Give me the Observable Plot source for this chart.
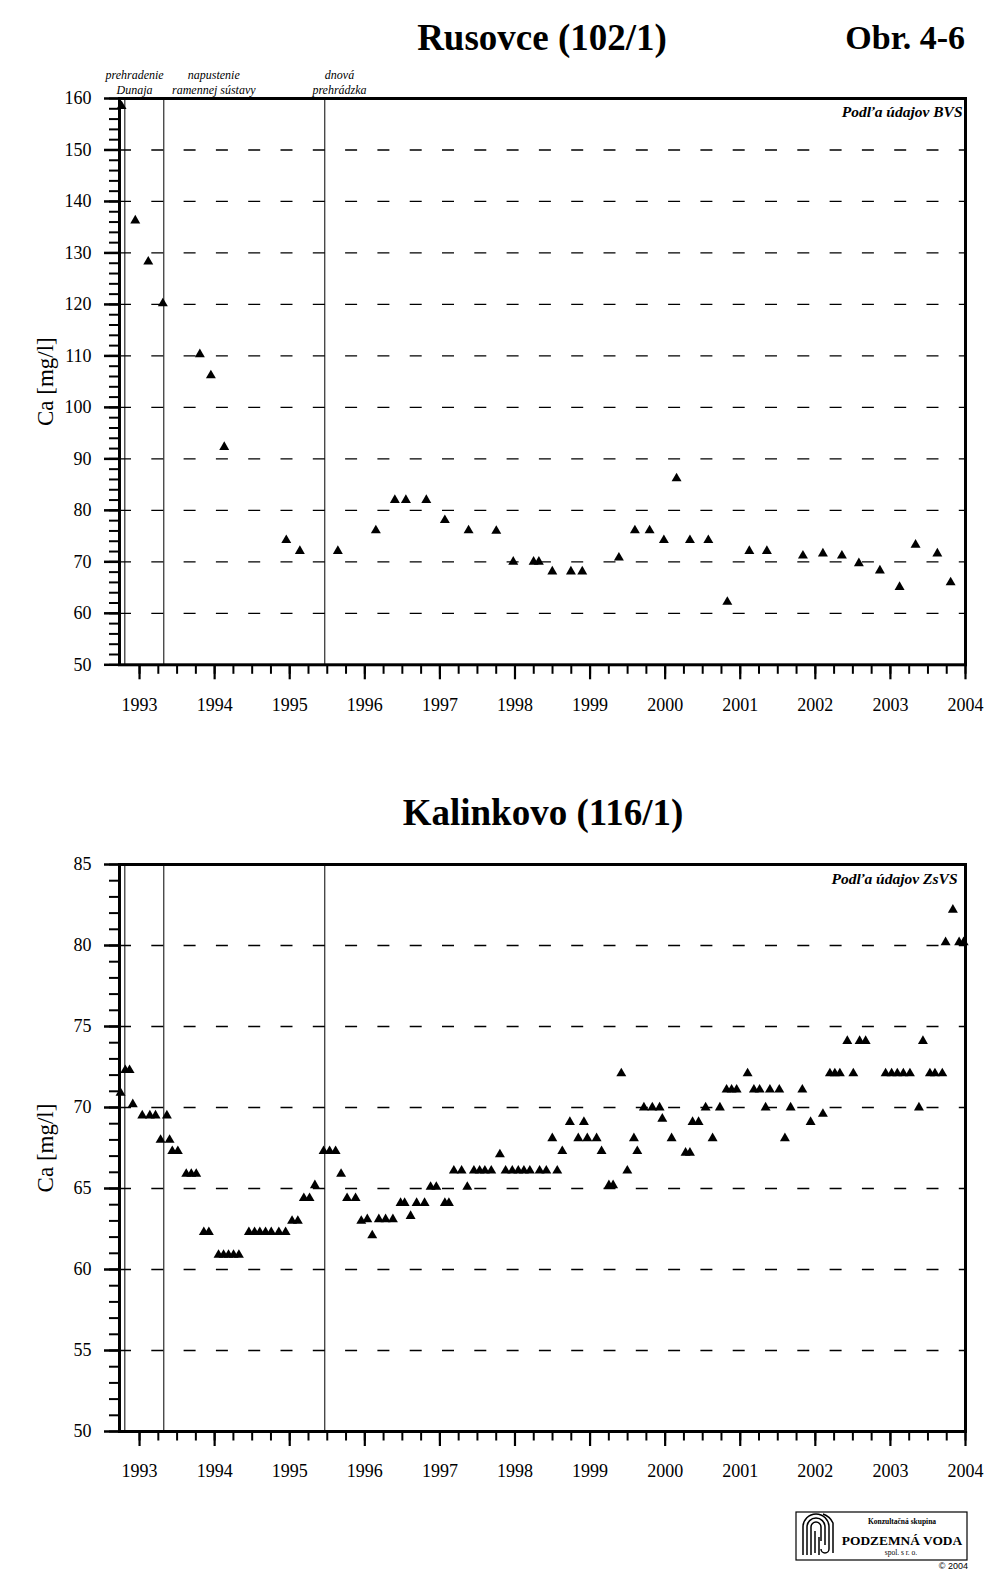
<!DOCTYPE html>
<html>
<head>
<meta charset="utf-8">
<script src="https://cdn.jsdelivr.net/npm/d3@7"></script>
<script src="https://cdn.jsdelivr.net/npm/@observablehq/plot@0.6"></script>
<style>
  body { margin: 0; background: #fff; }
  #page { position: relative; width: 1005px; height: 1583px; background: #fff; overflow: hidden;
          font-family: 'Liberation Serif', 'Times New Roman', serif; color: #000; }
  .abs { position: absolute; white-space: nowrap; line-height: 1; }
  .title { font-weight: bold; font-size: 37px; transform: translateX(-50%); }
  .chart { position: absolute; left: 0; }
</style>
</head>
<body>
<div id="page">
  <div class="abs title" style="left:542px; top:18.5px;">Rusovce (102/1)</div>
  <div class="abs" style="right:40px; top:21px; font-weight:bold; font-size:34px;">Obr. 4-6</div>
  <div class="abs title" style="left:543px; top:794px;">Kalinkovo (116/1)</div>
  <div id="c1" class="chart" style="top:0px;"></div>
  <div id="c2" class="chart" style="top:766.3px;"></div>
  <svg class="abs" style="left:790px; top:1505px;" width="190" height="70" viewBox="0 0 190 70">
    <rect x="6" y="7" width="171" height="48" fill="#fff" stroke="#000" stroke-width="1.2"/>
    <g fill="none" stroke="#000" stroke-width="1.5">
      <path d="M13 50 V22 a13 13 0 0 1 26 0 V44 a4 4 0 0 1 -8 0"/>
      <path d="M17 50 V22 a9 9 0 0 1 18 0 V40"/>
      <path d="M21 50 V22 a5 5 0 0 1 10 0 V36"/>
      <path d="M25 48 V26"/>
      <path d="M29 50 V32 M43 48 V18 a17 17 0 0 0 -10 -9"/>
    </g>
    <text x="112" y="19" font-size="7.5" text-anchor="middle" font-family="Liberation Serif" font-weight="bold">Konzultačná  skupina</text>
    <text x="112" y="40" font-size="13.4" text-anchor="middle" font-family="Liberation Serif" font-weight="bold">PODZEMNÁ VODA</text>
    <text x="111" y="50" font-size="7.5" text-anchor="middle" font-family="Liberation Serif">spol. s r. o.</text>
    <text x="178" y="64" font-size="9" text-anchor="end" font-family="Liberation Sans">© 2004</text>
  </svg>
</div>
<script>
// x axis (decimal years)
const xDomain = [1992.733, 2004.0];
const yearTicks = [1993, 1994, 1995, 1996, 1997, 1998, 1999, 2000, 2001, 2002, 2003, 2004];
const eventDates = [1992.804, 1993.323, 1995.467];
const eventLabels = ["prehradenie\nDunaja", "napustenie\nramennej sústavy", "dnová\nprehrádzka"];

// Rusovce (102/1)
const rusovceDates = [1992.76, 1992.943, 1993.116, 1993.31, 1993.803, 1993.95, 1994.128, 1994.954, 1995.135,
  1995.641, 1996.147, 1996.4, 1996.547, 1996.819, 1997.066, 1997.382, 1997.751, 1997.977, 1998.248, 1998.318,
  1998.497, 1998.745, 1998.896, 1999.384, 1999.597, 1999.793, 1999.983, 2000.152, 2000.33, 2000.575, 2000.828,
  2001.121, 2001.355, 2001.835, 2002.101, 2002.354, 2002.58, 2002.86, 2003.122, 2003.335, 2003.625, 2003.802];
const rusovceCa = [158.5, 136.3, 128.3, 120.2, 110.3, 106.2, 92.3, 74.2, 72.1,
  72.1, 76.1, 82.0, 82.0, 82.0, 78.1, 76.1, 76.0, 70.0, 70.0, 70.0,
  68.1, 68.1, 68.1, 70.8, 76.1, 76.1, 74.2, 86.2, 74.2, 74.2, 62.2,
  72.1, 72.1, 71.2, 71.6, 71.2, 69.7, 68.3, 65.1, 73.3, 71.6, 66.0];
const rusovceYTicks = [50, 60, 70, 80, 90, 100, 110, 120, 130, 140, 150, 160];

// Kalinkovo (116/1)
const kalinkovoDates = [1992.747, 1992.81, 1992.867, 1992.91, 1993.036, 1993.137, 1993.213, 1993.28, 1993.364, 1993.40,
  1993.436, 1993.51, 1993.622, 1993.689, 1993.755, 1993.856, 1993.923, 1994.052, 1994.119, 1994.185,
  1994.252, 1994.323, 1994.456, 1994.532, 1994.602, 1994.678, 1994.754, 1994.855, 1994.945, 1995.031,
  1995.108, 1995.188, 1995.264, 1995.335, 1995.451, 1995.531, 1995.611, 1995.684, 1995.764, 1995.877,
  1995.953, 1996.033, 1996.099, 1996.187, 1996.277, 1996.374, 1996.476, 1996.53, 1996.61, 1996.69,
  1996.796, 1996.876, 1996.952, 1997.066, 1997.12, 1997.186, 1997.289, 1997.365, 1997.453, 1997.529,
  1997.599, 1997.684, 1997.799, 1997.875, 1997.964, 1998.044, 1998.119, 1998.198, 1998.328, 1998.417,
  1998.497, 1998.563, 1998.63, 1998.731, 1998.843, 1998.918, 1998.963, 1999.087, 1999.153, 1999.251,
  1999.307, 1999.416, 1999.496, 1999.584, 1999.629, 1999.717, 1999.829, 1999.926, 1999.962, 2000.086,
  2000.272, 2000.33, 2000.365, 2000.445, 2000.539, 2000.632, 2000.729, 2000.818, 2000.885, 2000.952,
  2001.098, 2001.182, 2001.258, 2001.338, 2001.395, 2001.52, 2001.595, 2001.671, 2001.827, 2001.937,
  2002.101, 2002.194, 2002.26, 2002.327, 2002.426, 2002.506, 2002.59, 2002.67, 2002.936, 2003.016,
  2003.092, 2003.172, 2003.26, 2003.38, 2003.433, 2003.526, 2003.593, 2003.691, 2003.735, 2003.832,
  2003.915, 2003.975];
const kalinkovoCa = [70.9, 72.3, 72.3, 70.2, 69.5, 69.5, 69.5, 68.0, 69.5, 68.0,
  67.3, 67.3, 65.9, 65.9, 65.9, 62.3, 62.3, 60.9, 60.9, 60.9,
  60.9, 60.9, 62.3, 62.3, 62.3, 62.3, 62.3, 62.3, 62.3, 63.0,
  63.0, 64.4, 64.4, 65.2, 67.3, 67.3, 67.3, 65.9, 64.4, 64.4,
  63.0, 63.1, 62.1, 63.1, 63.1, 63.1, 64.1, 64.1, 63.3, 64.1,
  64.1, 65.1, 65.1, 64.1, 64.1, 66.1, 66.1, 65.1, 66.1, 66.1,
  66.1, 66.1, 67.1, 66.1, 66.1, 66.1, 66.1, 66.1, 66.1, 66.1,
  68.1, 66.1, 67.3, 69.1, 68.1, 69.1, 68.1, 68.1, 67.3, 65.2,
  65.2, 72.1, 66.1, 68.1, 67.3, 70.0, 70.0, 70.0, 69.3, 68.1,
  67.2, 67.2, 69.1, 69.1, 70.0, 68.1, 70.0, 71.1, 71.1, 71.1,
  72.1, 71.1, 71.1, 70.0, 71.1, 71.1, 68.1, 70.0, 71.1, 69.1,
  69.6, 72.1, 72.1, 72.1, 74.1, 72.1, 74.1, 74.1, 72.1, 72.1,
  72.1, 72.1, 72.1, 70.0, 74.1, 72.1, 72.1, 72.1, 80.2, 82.2,
  80.2, 80.2];
const kalinkovoYTicks = [50, 55, 60, 65, 70, 75, 80, 85];

const quarterTicks = d3.range(1993, 2004.001, 0.25);
const serif = "'Liberation Serif', 'Times New Roman', serif";

function drawChart({dates, values, yTicks, minorStep, source, sourceDx, withLabels, height}) {
  const data = dates.map((d, i) => ({x: d, y: values[i]}));
  const grid = yTicks.slice(1, -1);
  const minor = d3.range(yTicks[0], yTicks[yTicks.length - 1] + 1e-9, minorStep);
  const marks = [
    Plot.ruleY(grid, {strokeDasharray: "12,20.3", strokeWidth: 1.3}),
    Plot.ruleX(eventDates, {strokeWidth: 1}),
    Plot.axisX(quarterTicks, {tickSize: 9.5, tickFormat: () => "", strokeWidth: 2, label: null}),
    Plot.axisX(yearTicks, {tickSize: 15, tickPadding: 18, tickFormat: d => String(d), strokeWidth: 2.2, fontSize: 18, label: null}),
    Plot.axisY(minor, {tickSize: 10, tickFormat: () => "", strokeWidth: 2, label: null}),
    Plot.axisY(yTicks, {tickSize: 15, tickPadding: 13, tickFormat: d => String(d), strokeWidth: 2.5, fontSize: 18, label: null}),
    Plot.frame({strokeWidth: 3}),
    Plot.dot(data, {x: "x", y: "y", symbol: "triangle", r: 3.7, fill: "black", stroke: "none"}),
    Plot.text([source], {frameAnchor: "top-right", textAnchor: "end", dx: sourceDx, dy: 19, lineAnchor: "bottom",
      fontStyle: "italic", fontWeight: "bold", fontSize: 15.5}),
    Plot.text(["Ca [mg/l]"], {frameAnchor: "left", textAnchor: "middle", lineAnchor: "middle", dx: -73.6, rotate: -90, fontSize: 23})
  ];
  if (withLabels) {
    const offsets = [9.7, 50, 14.7];
    eventLabels.forEach((t, i) => {
      marks.push(Plot.text([{x: eventDates[i], t}], {x: "x", text: "t", frameAnchor: "top", lineAnchor: "bottom",
        dy: -4.2, dx: offsets[i], fontStyle: "italic", fontSize: 12, lineHeight: 1.275}));
    });
  }
  return Plot.plot({
    width: 1005,
    height,
    marginLeft: 119,
    marginRight: 40,
    marginTop: 98,
    marginBottom: 76,
    x: {type: "linear", domain: xDomain},
    y: {type: "linear", domain: [yTicks[0], yTicks[yTicks.length - 1]]},
    style: {fontFamily: serif, fontSize: "18px", color: "black", background: "transparent", overflow: "visible"},
    marks
  });
}

document.getElementById("c1").appendChild(drawChart({
  dates: rusovceDates, values: rusovceCa, yTicks: rusovceYTicks, minorStep: 2,
  source: "Podľa údajov BVS", sourceDx: -3, withLabels: true, height: 740.3
}));
document.getElementById("c2").appendChild(drawChart({
  dates: kalinkovoDates, values: kalinkovoCa, yTicks: kalinkovoYTicks, minorStep: 1,
  source: "Podľa údajov ZsVS", sourceDx: -8, withLabels: false, height: 741
}));
</script>
</body>
</html>
